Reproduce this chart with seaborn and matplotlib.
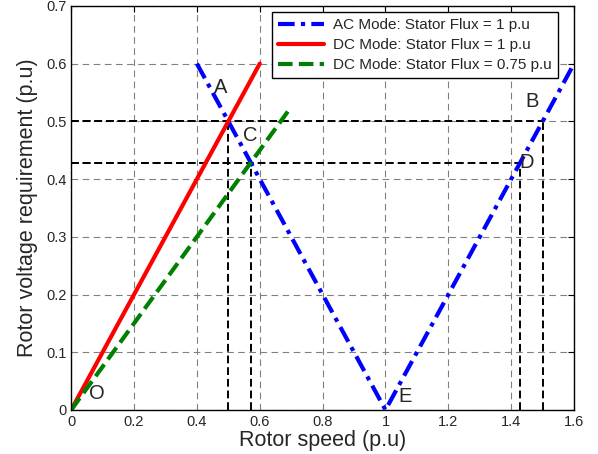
import matplotlib
matplotlib.use("Agg")
import matplotlib.pyplot as plt
import seaborn as sns
import pandas as pd

# Data
ac_speed = [0.4, 1.0, 1.6]
ac_volt = [0.6, 0.0, 0.6]
dc_speed = [0.0, 0.6]
dc_volt = [0.0, 0.6]
dc075_speed = [0.0, 0.7]
dc075_volt = [0.0, 0.525]
series_labels = ["AC Mode: Stator Flux = 1 p.u", "DC Mode: Stator Flux = 1 p.u", "DC Mode: Stator Flux = 0.75 p.u"]

ref_speed = [0.5, 0.5714, 1.4286, 1.5]
ref_volt = [0.5, 0.4286, 0.4286, 0.5]

point_names = ["A", "C", "B", "D", "E", "O"]
point_x = [0.474, 0.569, 1.466, 1.45, 1.062, 0.083]
point_y = [0.558, 0.475, 0.534, 0.428, 0.024, 0.028]

sns.set_style("white")
plt.rcParams['font.family'] = ['Liberation Sans', 'DejaVu Sans']

fig = plt.figure(figsize=(5.98, 4.54), dpi=100)
ax = fig.add_axes([0.119, 0.097, 0.841, 0.890])

df = pd.concat([
    pd.DataFrame({"speed": ac_speed, "volt": ac_volt, "series": series_labels[0]}),
    pd.DataFrame({"speed": dc_speed, "volt": dc_volt, "series": series_labels[1]}),
    pd.DataFrame({"speed": dc075_speed, "volt": dc075_volt, "series": series_labels[2]}),
])

colors = ["#0000ff", "#ff0000", "#008000"]
styles = [(0, (4, 1.5, 1, 1.5)), "-", (0, (3.5, 1.5))]
for lab, col, ls in zip(series_labels, colors, styles):
    sub = df[df["series"] == lab]
    sns.lineplot(data=sub, x="speed", y="volt", ax=ax, color=col, linestyle=ls,
                 linewidth=3, label=lab, sort=False, estimator=None)

# reference dashed lines
for xs, ys in zip(ref_speed, ref_volt):
    ax.plot([xs, xs], [0, ys], color="black", linestyle=(0, (4, 2)), linewidth=1.4, zorder=1)
    ax.plot([0, xs], [ys, ys], color="black", linestyle=(0, (4, 2)), linewidth=1.4, zorder=1)

for n, x, y in zip(point_names, point_x, point_y):
    ax.text(x, y, n, fontsize=14.5, ha="center", va="center")

ax.set_xlim(0, 1.6)
ax.set_ylim(0, 0.7)
ax.set_xticks([0, 0.2, 0.4, 0.6, 0.8, 1.0, 1.2, 1.4, 1.6])
ax.set_xticklabels(["0", "0.2", "0.4", "0.6", "0.8", "1", "1.2", "1.4", "1.6"])
ax.set_yticks([0, 0.1, 0.2, 0.3, 0.4, 0.5, 0.6, 0.7])
ax.set_yticklabels(["0", "0.1", "0.2", "0.3", "0.4", "0.5", "0.6", "0.7"])
ax.grid(True, color="#808080", linestyle=(0, (6, 4)), linewidth=0.8)
ax.tick_params(direction="in", top=True, right=True, length=4, labelsize=10.5, color="black")
for s in ax.spines.values():
    s.set_color("black")
    s.set_linewidth(1)
ax.set_xlabel("Rotor speed (p.u)", fontsize=15.5, labelpad=1)
ax.set_ylabel("Rotor voltage requirement (p.u)", fontsize=15.5, labelpad=6)

leg = ax.legend(loc="upper right", fontsize=11, frameon=True, fancybox=False,
                handlelength=3.0, handletextpad=0.6, borderpad=0.4, labelspacing=0.4,
                borderaxespad=0, bbox_to_anchor=(0.968, 0.985))
leg.get_frame().set_edgecolor("black")
leg.get_frame().set_linewidth(1)
leg.get_frame().set_alpha(1)

fig.savefig("out.png", dpi=100)
